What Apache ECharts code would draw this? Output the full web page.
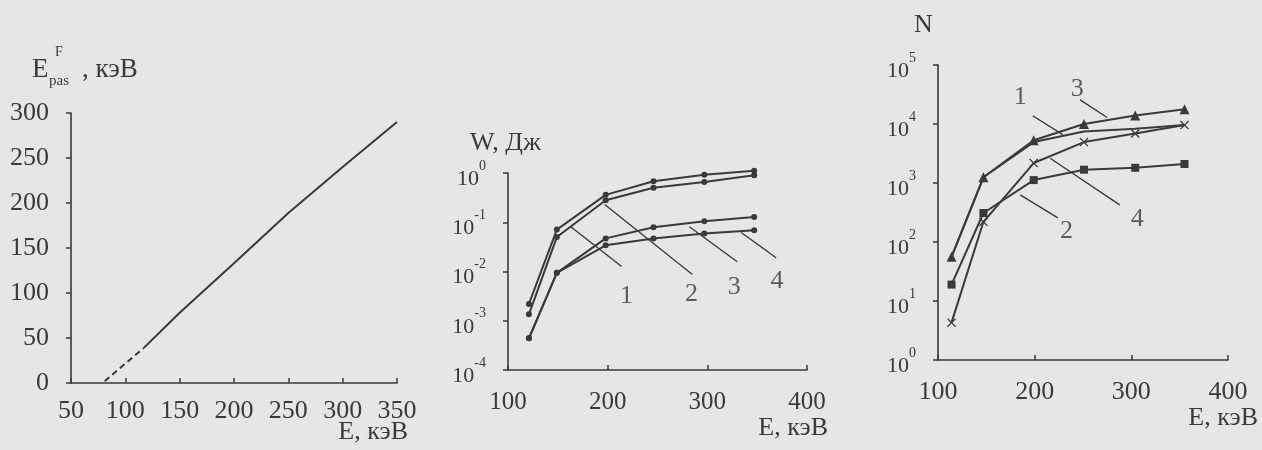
<!DOCTYPE html>
<html>
<head>
<meta charset="utf-8">
<script src="https://cdn.jsdelivr.net/npm/echarts@6/dist/echarts.min.js"></script>
<style>
  html, body { margin: 0; padding: 0; background: #e6e6e4; }
  #main { width: 1262px; height: 450px; }
</style>
</head>
<body>
<div id="main"></div>
<script>
// panel 1: E_pas^F vs E
var epasDashE = [81, 117];
var epasDashV = [2, 39];
var epasE = [117, 150, 200, 250, 300, 350];
var epasV = [39, 78, 133, 189, 240, 290];

// panel 2: W, J (log)
var wE = [121, 149, 198, 246, 297, 347];
var w1 = [0.0022, 0.071, 0.36, 0.68, 0.92, 1.11];
var w2 = [0.00135, 0.050, 0.28, 0.50, 0.66, 0.90];
var w3 = [0.00044, 0.0094, 0.047, 0.079, 0.105, 0.128];
var w4 = [0.00044, 0.0094, 0.034, 0.047, 0.059, 0.069];
// leader lines + numbers (E, W)
var wLeadFrom = [[163, 0.081], [197, 0.229], [282, 0.081], [334, 0.062]];
var wLeadTo = [[214, 0.0126], [285, 0.0087], [330, 0.0158], [369, 0.019]];
var wTagE = [219, 284, 327, 370];
var wTagV = [0.0031, 0.0034, 0.0048, 0.0063];
var wTags = ['1', '2', '3', '4'];

// panel 3: N (log)
var nE = [114, 147, 199, 251, 304, 355];
var n1 = [56, 1250, 4940, 7450, 8300, 9600];
var n2 = [19, 310, 1120, 1680, 1810, 2100];
var n3 = [56, 1250, 5300, 10000, 13900, 17800];
var n4 = [4.3, 220, 2180, 4940, 6900, 9600];
var nLeadFrom = [[198, 13800], [185, 630], [247, 25700], [216, 2630]];
var nLeadTo = [[229, 6600], [224, 257], [275, 12900], [288, 427]];
var nTagE = [185, 233, 244, 306];
var nTagV = [28000, 153, 39000, 245];
var nTags = ['1', '2', '3', '4'];

var FONT = '"Liberation Serif", "DejaVu Serif", serif';
var INK = '#3a3a3a';
var xMark = 'path://M0,1L1,0L5,4L9,0L10,1L6,5L10,9L9,10L5,6L1,10L0,9L4,5Z';

function pairs(xs, ys) {
  var out = [];
  for (var i = 0; i < xs.length; i++) out.push([xs[i], ys[i]]);
  return out;
}

function logLabel() {
  return {
    margin: 22,
    formatter: function(v) {
      return '{b|10}{s|' + Math.round(Math.log10(v)) + '}';
    },
    rich: {
      b: { fontFamily: FONT, fontSize: 22, color: INK, padding: [12, 0, 0, 0] },
      s: { fontFamily: FONT, fontSize: 14, color: INK, padding: [0, 0, 14, 0] }
    }
  };
}

function xAxisOf(idx, min, max, step, margin, size) {
  return {
    type: 'value', gridIndex: idx, min: min, max: max, interval: step,
    axisLine: { lineStyle: { color: INK, width: 1.6 } },
    axisTick: { inside: true, length: 5, lineStyle: { color: INK, width: 1.5 } },
    axisLabel: { fontFamily: FONT, fontSize: size, color: INK, margin: margin },
    splitLine: { show: false }
  };
}

function curve(x, y, data, sym, size) {
  return {
    type: 'line', xAxisIndex: x, yAxisIndex: y, data: data,
    symbol: sym || 'none', symbolSize: size || 0, showSymbol: !!sym,
    clip: false, silent: true, animation: false,
    lineStyle: { color: INK, width: 2 },
    itemStyle: { color: INK }
  };
}

function leaders(x, y, from, to) {
  var list = [];
  for (var i = 0; i < from.length; i++) {
    var s = curve(x, y, [from[i], to[i]]);
    s.lineStyle.width = 1.4;
    list.push(s);
  }
  return list;
}

function tags(x, y, es, vs, txt) {
  var d = [];
  for (var i = 0; i < es.length; i++) d.push({ value: [es[i], vs[i]], name: txt[i] });
  return {
    type: 'scatter', xAxisIndex: x, yAxisIndex: y, data: d, symbolSize: 0,
    silent: true, animation: false,
    label: { show: true, position: 'inside', formatter: '{b}', fontFamily: FONT, fontSize: 26, color: INK }
  };
}

function txt(x, y, s, size, align) {
  return {
    type: 'text', x: x, y: y, silent: true,
    style: {
      text: s, fill: INK, font: size + 'px ' + FONT,
      align: align || 'left', textAlign: align || 'left',
      verticalAlign: 'middle', textVerticalAlign: 'middle'
    }
  };
}

var myChart = echarts.init(document.getElementById('main'));

var series = [];
// panel 1
var dash = curve(0, 0, pairs(epasDashE, epasDashV));
dash.lineStyle.type = [6, 4];
series.push(dash);
series.push(curve(0, 0, pairs(epasE, epasV)));
// panel 2
series.push(curve(1, 1, pairs(wE, w1), 'circle', 6));
series.push(curve(1, 1, pairs(wE, w2), 'circle', 6));
series.push(curve(1, 1, pairs(wE, w3), 'circle', 6));
series.push(curve(1, 1, pairs(wE, w4), 'circle', 6));
series = series.concat(leaders(1, 1, wLeadFrom, wLeadTo));
series.push(tags(1, 1, wTagE, wTagV, wTags));
// panel 3
series.push(curve(2, 2, pairs(nE, n1)));
series.push(curve(2, 2, pairs(nE, n2), 'rect', 8));
series.push(curve(2, 2, pairs(nE, n3), 'triangle', 10));
series.push(curve(2, 2, pairs(nE, n4), xMark, 9));
series = series.concat(leaders(2, 2, nLeadFrom, nLeadTo));
series.push(tags(2, 2, nTagE, nTagV, nTags));

var option = {
  backgroundColor: '#e6e6e4',
  animation: false,
  grid: [
    { left: 71, top: 113, width: 326, height: 270 },
    { left: 508, top: 173, width: 299, height: 197 },
    { left: 938, top: 65, width: 290, height: 295 }
  ],
  xAxis: [
    xAxisOf(0, 50, 350, 50, 15, 26),
    xAxisOf(1, 100, 400, 100, 20, 25),
    xAxisOf(2, 100, 400, 100, 19, 26)
  ],
  yAxis: [
    {
      type: 'value', gridIndex: 0, min: 0, max: 300, interval: 50,
      axisLine: { show: true, lineStyle: { color: INK, width: 1.6 } },
      axisTick: { show: true, length: 5, lineStyle: { color: INK, width: 1.5 } },
      axisLabel: { fontFamily: FONT, fontSize: 26, color: INK, margin: 22 },
      splitLine: { show: false }
    },
    {
      type: 'log', logBase: 10, gridIndex: 1, min: 0.0001, max: 1,
      axisLine: { show: true, lineStyle: { color: INK, width: 1.6 } },
      axisTick: { show: true, length: 5, lineStyle: { color: INK, width: 1.5 } },
      axisLabel: logLabel(),
      splitLine: { show: false }
    },
    {
      type: 'log', logBase: 10, gridIndex: 2, min: 1, max: 100000,
      axisLine: { show: true, lineStyle: { color: INK, width: 1.6 } },
      axisTick: { show: true, length: 5, lineStyle: { color: INK, width: 1.5 } },
      axisLabel: logLabel(),
      splitLine: { show: false }
    }
  ],
  graphic: [
    // panel 1 titles
    txt(32, 70, 'E', 27),
    txt(55, 52, 'F', 14),
    txt(49, 81, 'pas', 15),
    txt(82, 70, ', кэВ', 27),
    txt(408, 432, 'E, кэВ', 26, 'right'),
    // panel 2 titles
    txt(470, 143, 'W, Дж', 26),
    txt(828, 428, 'E, кэВ', 26, 'right'),
    // panel 3 titles
    txt(914, 25, 'N', 26),
    txt(1258, 418, 'E, кэВ', 26, 'right')
  ],
  series: series
};
myChart.setOption(option);
</script>
</body>
</html>
